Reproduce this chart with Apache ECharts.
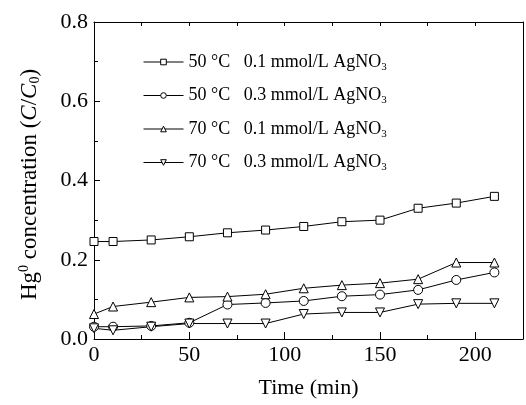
<!DOCTYPE html>
<html><head><meta charset="utf-8">
<script src="https://cdn.jsdelivr.net/npm/echarts@6/dist/echarts.min.js"></script>
<style>html,body{margin:0;padding:0;background:#fff}#c{width:526px;height:405px}</style>
</head><body><div id="c"></div>
<script>
var time = [0, 10, 30, 50, 70, 90, 110, 130, 150, 170, 190, 210];
var names = [
  '50 °C   0.1 mmol/L AgNO3',
  '50 °C   0.3 mmol/L AgNO3',
  '70 °C   0.1 mmol/L AgNO3',
  '70 °C   0.3 mmol/L AgNO3'
];
var s50_01 = [0.246, 0.246, 0.250, 0.258, 0.268, 0.275, 0.284, 0.296, 0.300, 0.330, 0.343, 0.360];
var s50_03 = [0.031, 0.031, 0.033, 0.041, 0.087, 0.091, 0.096, 0.108, 0.112, 0.124, 0.149, 0.168];
var s70_01 = [0.063, 0.082, 0.093, 0.105, 0.107, 0.113, 0.128, 0.136, 0.141, 0.151, 0.193, 0.193];
var s70_03 = [0.027, 0.022, 0.031, 0.039, 0.039, 0.039, 0.063, 0.067, 0.067, 0.088, 0.090, 0.090];
var xTicks = [0, 50, 100, 150, 200];
var yTicks = [0.0, 0.2, 0.4, 0.6, 0.8];

var symbols = ['rect', 'circle', 'triangle', 'path://M0,0 L10,0 L5,9 Z'];
var seriesData = [s50_01, s50_03, s70_01, s70_03];
var FONT = '"Liberation Serif", "Times New Roman", serif';

function pair(vals) { return time.map(function (t, i) { return [t, vals[i]]; }); }

var series = seriesData.map(function (d, i) {
  return {
    name: names[i], type: 'line', data: pair(d),
    symbol: symbols[i], symbolSize: i === 0 ? 8 : 9, showSymbol: true,
    lineStyle: { color: '#000', width: 1 },
    itemStyle: { color: '#fff', borderColor: '#000', borderWidth: 1 },
    emphasis: { disabled: true }, animation: false, z: 3, clip: true
  };
});

var chart = echarts.init(document.getElementById('c'), null, { renderer: 'canvas' });
chart.setOption({
  backgroundColor: '#fff',
  animation: false,
  grid: { left: 94, right: 1, top: 22, bottom: 66 },
  legend: {
    left: 138, top: 48, orient: 'vertical',
    itemWidth: 40, itemHeight: 7, itemGap: 14,
    data: names,
    formatter: function (n) { return n.replace(/3$/, '{sub|3}'); },
    textStyle: {
      fontFamily: FONT, fontSize: 18, color: '#000', padding: [0, 0, 0, 0],
      rich: { sub: { fontFamily: FONT, fontSize: 11, color: '#000', padding: [10, 0, 0, 0] } }
    },
    itemStyle: { color: '#fff', borderColor: '#000', borderWidth: 1 },
    lineStyle: { color: '#000', width: 1 }
  },
  xAxis: [{
    type: 'value', min: 0, max: 225, interval: 50,
    name: 'Time (min)', nameLocation: 'middle', nameGap: 38,
    nameTextStyle: { fontFamily: FONT, fontSize: 22, color: '#000' },
    axisLine: { show: true, onZero: false, lineStyle: { color: '#000', width: 1 } },
    axisTick: { show: true, inside: true, length: 7, lineStyle: { color: '#000' } },
    minorTick: { show: true, splitNumber: 2, length: 4, lineStyle: { color: '#000' } },
    splitLine: { show: false },
    axisLabel: { fontFamily: FONT, fontSize: 22, color: '#000', margin: 5,
      formatter: function (v) { return v > 200 ? '' : String(v); } }
  }, {
    type: 'value', min: 0, max: 225, interval: 25, position: 'top',
    axisLine: { show: true, onZero: false, lineStyle: { color: '#000', width: 1 } },
    axisTick: { show: true, inside: true, length: 4, lineStyle: { color: '#000' } },
    axisLabel: { show: false }, splitLine: { show: false }
  }],
  yAxis: [{
    type: 'value', min: 0, max: 0.8, interval: 0.2,
    name: 'Hg{sup|0} concentration ({i|C}/{i|C}{sub|0})', nameLocation: 'middle', nameGap: 51,
    nameTextStyle: {
      fontFamily: FONT, fontSize: 23, color: '#000', padding: [0, 8, 0, 0],
      rich: {
        sup: { fontFamily: FONT, fontSize: 14, color: '#000', padding: [0, 0, 12, 0] },
        sub: { fontFamily: FONT, fontSize: 14, color: '#000', padding: [10, 0, 0, 0] },
        i: { fontFamily: FONT, fontSize: 23, fontStyle: 'italic', color: '#000' }
      }
    },
    axisLine: { show: true, onZero: false, lineStyle: { color: '#000', width: 1 } },
    axisTick: { show: true, inside: true, length: 6, lineStyle: { color: '#000' } },
    minorTick: { show: true, splitNumber: 2, length: 4, lineStyle: { color: '#000' } },
    splitLine: { show: false },
    axisLabel: { fontFamily: FONT, fontSize: 22, color: '#000', margin: 6,
      formatter: function (v) { return v.toFixed(1); } }
  }, {
    type: 'value', min: 0, max: 0.8, interval: 0.2, position: 'right',
    axisLine: { show: true, onZero: false, lineStyle: { color: '#000', width: 1 } },
    axisTick: { show: false }, axisLabel: { show: false }, splitLine: { show: false }
  }],
  series: series
});
</script></body></html>
